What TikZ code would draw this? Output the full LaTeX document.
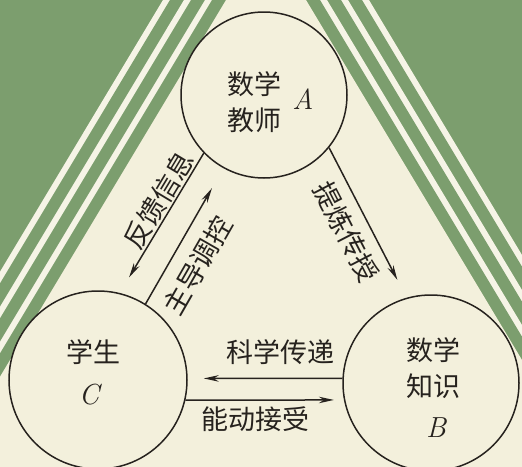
\documentclass[tikz,border=0pt]{standalone}
\usepackage{fontspec}
\newfontfamily\cjk{Noto Sans CJK SC}
\usetikzlibrary{arrows.meta}
\definecolor{bggreen}{RGB}{124,158,110}
\definecolor{paper}{RGB}{243,240,220}
\definecolor{stripe}{RGB}{246,244,230}
\definecolor{ink}{RGB}{38,34,30}
\tikzset{
diagram/.style={x=1pt,y=-1pt,>={Stealth[length=15pt,width=6.5pt]}},
party/.style={circle,draw=ink,fill=paper,line width=1.5pt,inner sep=0pt,
    minimum size=#1},
tag/.style={font=\cjk\fontsize{27}{36}\selectfont,text=ink,align=center,
    inner sep=0pt},
letter/.style={font=\fontsize{29}{32}\selectfont\itshape,text=ink,inner sep=0pt},
flow/.style={->,draw=ink,line width=1.5pt,shorten >=#1},
flowtag/.style={font=\cjk\fontsize{27}{30}\selectfont,text=ink,sloped,
    inner xsep=0pt,inner ysep=#1},
flowtag/.default={0pt},
}

\begin{document}
\begin{tikzpicture}[diagram]

    \useasboundingbox (0,0) rectangle (522,466);
    \clip (0,0) rectangle (522,466);
    \fill[bggreen] (0,0) rectangle (522,466);
    % striped border of the triangle
    \foreach \h/\c in {103/stripe,96/bggreen,82/stripe,75/bggreen,61/stripe,54/bggreen,40/paper}
        \fill[\c] (266,-\h/0.6) -- ({266-\h-282},470) -- ({266+\h+282},470) -- cycle;

    \node[party=166pt] (A) at (264,95) {};
    \node[party=176pt] (B) at (431,383) {};
    \node[party=178pt] (C) at (98,380) {};

    \node[tag] (A name) at (254,102) {数学\\教师};
    \node[letter] (A letter) at (303,99) {A};
    \node[tag] (B name) at (433,368) {数学\\知识};
    \node[letter] (B letter) at (436,428) {B};
    \node[tag] (C name) at (93,352) {学生};
    \node[letter] (C letter) at (89,395) {C};

    \path
        (A.224) edge[flow=18pt] node[flowtag=1pt,above,pos=.39] {反馈信息} (C.76)
        (C.58)  edge[flow=23pt] node[flowtag=13pt,below,pos=.38] {主导调控} (A.241)
        (A.321) edge[flow=20pt] node[flowtag=10pt,below,pos=.49] {提炼传授} (B.106)
        (B.177) edge[flow=16pt] node[flowtag=13pt,above,pos=.40] {科学传递} (C.1)
        (C.347) edge[flow=10pt] node[flowtag=5.5pt,below,pos=.44] {能动接受} (B.191)
    ;
\end{tikzpicture}
\end{document}
